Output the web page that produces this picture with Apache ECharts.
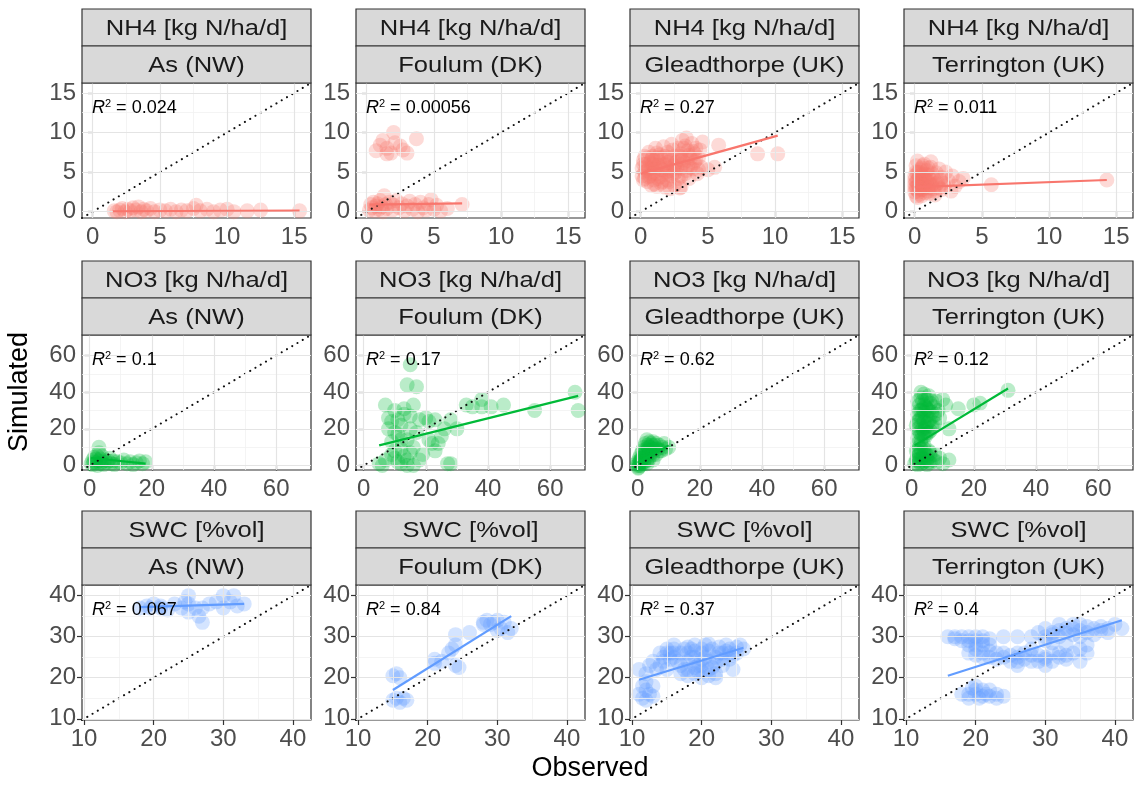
<!DOCTYPE html>
<html>
<head>
<meta charset="utf-8">
<script src="https://cdn.jsdelivr.net/npm/echarts@6.0.0/dist/echarts.min.js"></script>
<style>
  html, body { margin: 0; padding: 0; background: #fff; }
  #chart { width: 1134px; height: 785px; }
</style>
</head>
<body>
<div id="chart"></div>
<script>
// facet labels
const variables = ['NH4 [kg N/ha/d]', 'NO3 [kg N/ha/d]', 'SWC [%vol]'];
const sites = ['As (NW)', 'Foulum (DK)', 'Gleadthorpe (UK)', 'Terrington (UK)'];
const colors = ['#F8766D', '#00BA38', '#619CFF'];

// axis ranges per row (x and y share the same range)
const axisMin = [-0.8, -2.45, 9.7];
const axisMax = [16.25, 71.2, 42.6];
const majorTicks = [[0, 5, 10, 15], [0, 20, 40, 60], [10, 20, 30, 40]];
const minorTicks = [[2.5, 7.5, 12.5], [10, 30, 50], [15, 25, 35]];

const r2Labels = [
  ['0.024', '0.00056', '0.27', '0.011'],
  ['0.1', '0.17', '0.62', '0.12'],
  ['0.067', '0.84', '0.37', '0.4']
];

// regression lines [x1, y1, x2, y2]
const fitNH4 = [[1.5, 0.05, 15.4, 0.15], [0.2, 0.9, 7.1, 1.05], [0, 4.8, 10.2, 9.6], [0, 3.1, 14.3, 4.0]];
const fitNO3 = [[0.5, 4.1, 18, 1.0], [5, 11, 69, 38], [0, 1.5, 10, 11], [1, 11, 31, 42]];
const fitSWC = [[18, 37.2, 33, 38], [15, 17, 32, 35], [11, 19.5, 26, 27.3], [16, 20.5, 41, 34]];

// observed / simulated pairs
const nh4As = [[1.6,0.1],[1.8,0],[2,0.2],[2.2,0.4],[2.4,0],[2.6,0.3],[2.8,0.1],[3,0.5],[3.2,0.2],[3.4,0.6],[3.6,0],[3.8,0.3],[4,0.1],[4.3,0.4],[4.6,0],[5,0.2],[5.4,0.1],[5.8,0.3],[6.2,0],[6.6,0.2],[7,0.1],[7.5,0.4],[7.7,0.8],[8,0.1],[8.5,0.3],[9,0],[9.5,0.2],[10,0.3],[10.5,0],[11.5,0.1],[12.5,0.2],[15.4,0.1]];
const nh4Foulum = [[0.7,7.7],[1.0,8.4],[1.2,9.0],[1.5,7.3],[1.8,7.4],[2.0,10.0],[2.1,8.7],[2.5,8.3],[2.7,7.8],[3.0,7.4],[3.7,9.2],[1.5,8.0],
  [0.2,0.2],[0.3,0.9],[0.4,0.5],[0.5,1.2],[0.6,0.1],[0.7,0.7],[0.8,1.0],[0.9,0.3],[1.0,1.4],[1.1,0.6],[1.2,0.0],[1.3,2.0],[1.4,0.9],[1.5,0.4],[1.7,1.2],[1.9,0.2],[2.0,0.8],[2.2,1.4],[2.4,0.5],[2.6,1.0],[2.8,0.1],[3.0,0.7],[3.2,1.3],[3.4,0.3],[3.6,0.9],[3.8,0.0],[4.0,1.2],[4.2,0.5],[4.4,0.2],[4.6,0.9],[4.8,1.5],[5.0,0.3],[5.2,0.8],[5.5,0.1],[6.0,0.4],[7.1,0.9]];
const nh4Glead = [[0.1,4.5],[0.1,5.5],[0.2,6.5],[0.2,4],[0.3,5],[0.3,7],[0.4,6],[0.5,3.8],[0.5,5.2],[0.6,7.5],[0.7,4.5],[0.7,6.2],[0.8,3.3],[0.8,5.6],[0.9,7],[1,4],[1,5],[1,6.5],[1.1,8],[1.2,3.2],[1.2,4.8],[1.3,5.9],[1.4,7.2],[1.5,3.6],[1.5,4.4],[1.5,6.8],[1.6,5.3],[1.7,8.2],[1.8,3.1],[1.8,6],[1.9,4.7],[2,5.5],[2,7.5],[2.1,3.8],[2.2,6.5],[2.3,8.5],[2.3,4.5],[2.4,5.8],[2.5,3.3],[2.5,7],[2.6,5],[2.7,6.3],[2.8,8],[2.8,4.2],[2.9,3],[3,5.5],[3,7.3],[3.1,9],[3.2,6.2],[3.3,4.8],[3.3,8.3],[3.4,9.3],[3.5,5.8],[3.5,7.7],[3.6,4.2],[3.7,6.8],[3.8,8.6],[3.9,5.4],[4,7.3],[4,6.2],[4.1,8],[4.2,4.8],[4.3,6.8],[4.4,7.8],[4.5,5.6],[4.6,8.8],[5,5.3],[5.5,5.6],[5.8,8.4],[8.7,7.3],[10.2,7.3],[3,3.1],[2.2,2.9],[1,3.5],[0.2,6],
  [0.3,4.2],[0.5,6.8],[0.6,5.5],[0.8,4.8],[0.9,6],[1.1,5.4],[1.2,7.4],[1.3,4.2],[1.4,6.3],[1.6,3.8],[1.7,5.9],[1.8,7],[1.9,5],[2,4],[2.1,6.8],[2.2,5.2],[2.4,7.8],[2.5,4.8],[2.6,6.2],[2.7,5.5],[2.9,7],[3,4.5],[3.1,6.5],[3.2,8],[3.4,5.2],[3.6,7.1],[3.7,5.6],[3.9,7.6],[4.1,6.5],[4.3,5.3],[0.4,5.6],[0.6,4.4],[1,5.8],[1.5,5.4],[2,6.2],[2.5,5.8],[3,6.6],[3.5,6.5],[1.2,6.8],[0.8,6.6]];
const nh4Terr = [[0,2.5],[0,3.5],[0,4.5],[0.1,2],[0.1,3],[0.1,5.8],[0.2,4],[0.2,2.7],[0.2,6.4],[0.3,3.3],[0.3,5],[0.4,2.2],[0.4,4.3],[0.5,3.6],[0.5,5.5],[0.6,2.8],[0.6,4.8],[0.7,3.1],[0.7,6],[0.8,2.4],[0.8,4],[0.9,5.2],[1,3],[1,3.8],[1,4.6],[1.1,2.3],[1.2,5.6],[1.3,3.4],[1.4,4.2],[1.5,2.6],[1.6,4.9],[1.7,3.6],[1.8,5.4],[2,2.8],[2,4.3],[2.2,3.2],[2.3,5],[2.5,3.9],[2.7,2.6],[3,3.2],[3.3,3.8],[3.6,4.2],[5.7,3.4],[14.3,4],[0.5,2],[1.5,2.1],[0.2,1.8],[1.2,6.3],[2.8,4.5],
  [0,3],[0,4],[0.1,5],[0.2,3.4],[0.3,4.2],[0.3,2.5],[0.4,3.7],[0.5,4.6],[0.5,2.8],[0.6,3.4],[0.7,4.3],[0.8,3.2],[0.9,3.8],[1,2.6],[1.1,4.1],[1.2,3.3],[1.3,4.8],[1.4,2.9],[1.6,3.5],[1.8,3],[0.4,5.3],[0.2,4.9],[0.6,5.8],[1,5.5],[1.9,4],[0.1,3.8],[0.4,3],[0.8,4.7],[2.1,3.6],[1.1,3.5]];

const no3As = [[0.5,1],[1,3],[1,0.5],[1.5,2],[1.5,4.5],[2,1.5],[2,3.5],[2.5,0],[2.5,5],[3,2.5],[3,10],[3,7],[3.5,1],[3.5,3.5],[4,2],[4,5],[4.5,0.5],[5,3],[5.5,1.5],[6,2.5],[6.5,4],[7,1],[7.5,2.5],[8,0.5],[9,2],[10,1.5],[11,3],[12,1],[13,2],[14,0.5],[15,1.5],[16,2.5],[17,1],[18,2]];
const no3Foulum = [[5,1],[7,3],[7,33],[8,26],[8,20],[9,24],[9,13],[10,8],[10,4],[10,30],[11,2],[11,17],[12,1],[12,9],[12,22],[13,5],[13,28],[13,31],[14,3],[14,14],[14,44],[15,55],[15,7],[15,27],[16,10],[16,33],[16,0],[17,43],[17,18],[18,25],[18,3],[19,6],[20,26],[21,24],[21,14],[22,12],[23,8],[23,25],[24,12],[25,16],[26,20],[27,1],[28,1],[28,25],[30,20],[33,33],[35,32],[38,36],[38,32],[41,32],[45,33],[55,30],[68,40],[69,30],[12,14],[11,25],[10,18],[9,6],[15,20],[14,0],[6,0]];
const no3Glead = [[0,0],[0,2],[0.3,-1],[0.5,1],[0.5,4],[0.8,2.5],[1,0],[1,6],[1.2,3],[1.5,1.5],[1.5,8],[1.8,5],[2,2],[2,10],[2.2,7],[2.5,4],[2.5,12],[2.8,9],[3,1],[3,6],[3,14],[3.3,11],[3.5,3],[3.5,8],[3.8,13],[4,5],[4,10],[4.3,12],[4.5,7],[5,3],[5,9],[5,13],[5.5,11],[6,6],[6,12],[6.5,9],[7,11],[7.5,8],[8,10],[8.5,12],[9,9],[10,10],[0.2,-1.5],
  [0.5,0],[1,2],[1.5,4],[2,5],[2.5,7],[3,8],[3.5,10],[4,7],[4.5,11],[5,6],[1,3.5],[2,1],[3,3],[0,1],[6,9],[7,8]];
const no3Terr = [[1,1],[1.5,3],[2,0.5],[2,5],[2.5,2],[3,7],[3,1],[3.5,4],[4,9],[4,2],[4.5,6],[5,0.5],[5,3],[5.5,8],[6,5],[6,1.5],[7,3],[7.5,6],[8,2],[9,4],[10,1],[12,3],[1.5,8],[2.5,10],[3,12],
  [2,15],[2,20],[2,28],[2.5,18],[2.5,25],[2.5,33],[3,14],[3,22],[3,30],[3,37],[3.5,17],[3.5,26],[3.5,35],[4,19],[4,24],[4,29],[4,39],[4.5,16],[4.5,21],[4.5,32],[5,23],[5,27],[5,36],[5.5,18],[5.5,30],[6,25],[6,34],[6.5,21],[6.5,29],[7,27],[7,32],[7.5,23],[8,35],[8.5,30],[9,26],[10,36],[11,33],[12,20],[15,31],[20,33],[22,34],[31,41],[2,12],[1.5,22],[3,40],[2,35],
  [2,3],[2.5,6],[3,4],[3.5,1.5],[4,6],[4.5,3],[5,5.5],[5.5,2],[6,7],[3,9],[4,11],[2,8],[3.5,20],[4,33],[4.5,27],[5,18],[5.5,24],[3,26],[2.5,30],[3.5,31],[4,16],[5,31],[6,19],[6.5,35],[2,24],[3,17],[4.5,36],[5.5,38],[7,21],[8,28]];

const swcAs = [[18,37],[19,37.5],[19.5,37],[20,38],[21,37.5],[21,37],[22,36.5],[23,38],[24,37],[25,40],[25,38],[25,36],[26,37],[26.5,35],[27,33.5],[27,37],[28,38],[29,38.5],[30,40],[30,37],[31,38.5],[31.5,40],[32,37.5],[33,38],[24.5,38.5]];
const swcFoulum = [[15,20.5],[15.5,21],[16,20],[15,14.5],[15.5,15],[16,14],[16.5,15],[17,14.5],[21,24.5],[21,23.5],[22,24],[23,26],[23.5,27],[24,30.5],[24,23],[24.5,22.5],[24,28],[26,31],[28,33],[28.5,34],[29,33],[29.5,33.5],[30,34],[30.5,32],[31,33.5],[31.5,31],[32,32],[30,31.5],[28,33.5]];
const swcGlead = [[11,16],[11.5,15],[12,17],[12,14.5],[12.5,16],[13,18],[11,22],[12,21],[12.5,23],[13,24],[14,26],[14.5,25],[15,27],[15.5,26],[16,25],[14,23],[15,22],[16,27],[16.5,24],[17,21],[17,26],[17.5,22],[18,20.5],[18,24],[18.5,27],[19,21],[19,25],[19.5,23],[20,20],[20,26],[20.5,28],[21,22],[21,24],[21.5,27],[22,21],[22,25],[22.5,27.5],[23,23],[23,26],[23.5,28],[24,24.5],[24,27],[24.5,22],[25,26],[25.5,28],[26,27],[22,20],[20,27],[18,27.5],[16,28],[19,28],[21,28.2],
  [17,23],[18,22],[18.5,25],[19,26.5],[19.5,21.5],[20,23],[20.5,25],[21,26.5],[21.5,22.5],[22,23.5],[22.5,26],[23,24.5],[23.5,26.5],[24,26],[24.5,25.5],[25,27.5],[14.5,24],[15,26],[15.5,24.5],[16,26],[13.5,22],[12,19],[11.5,18],[13,15.5],[19,22.5],[20,24.5],[21,20.5],[17.5,27],[18,26],[20,21.5]];
const swcTerr = [[16,30],[17,29.5],[18,30],[19,29],[20,30],[21,29],[22,29.5],[19,28],[20,28],[21,28],[22,28],
  [19,26],[20,25.5],[21,26],[22,25],[23,26],[24,25],[25,24],[26,25],[27,24.5],[28,25.5],[29,24],[30,25],[31,26],[32,25],[33,24.5],[34,26],[35,24],[36,26],[26,23],[30,23],
  [18,16],[19,15],[19.5,17.5],[20,16],[20.5,15],[21,17],[21.5,16],[22,15.5],[23,16],[24,15.5],[20,18],
  [24,30],[26,30],[28,30],[29,31],[30,29],[30,32],[31,31],[32,30],[32,33],[33,31],[34,32],[35,30],[35,33],[36,31],[37,32],[38,31.5],[39,32],[40,33],[41,32],[33,28],[31,28.5],[36,28],
  [17,30],[18,29],[19,30],[20,29],[21,30],[20,27],[21,25],[22,26.5],[23,24.5],[24,26],[25,25.5],[26,24],[27,26],[28,24],[29,25.5],[30,24.5],[31,24],[32,26],[33,25.5],[30,30],[31,30.5],[32,31.5],[33,32],[34,30.5],[35,31.5],[36,32.5],[37,30.5],[38,32.5],[39,31],[34,33],[19,16],[20,17],[21,15.5],[22,17],[23,15],[26,26],[28,27],[35,27]];

const points = [
  [nh4As, nh4Foulum, nh4Glead, nh4Terr],
  [no3As, no3Foulum, no3Glead, no3Terr],
  [swcAs, swcFoulum, swcGlead, swcTerr]
];
const fits = [fitNH4, fitNO3, fitSWC];

const FONT = '"Liberation Sans", Arial, sans-serif';
const colLeft = [82, 356, 630, 904];
const panelW = 229;
const plotTop = [83, 335, 585];
const plotH = 135;
const stripH = 37;

const chart = echarts.init(document.getElementById('chart'));

const grids = [], xAxes = [], yAxes = [], series = [], graphics = [];

function makeAxis(r, k, isX) {
  return {
    type: 'value',
    gridIndex: k,
    min: axisMin[r],
    max: axisMax[r],
    axisLine: { show: false },
    axisTick: { show: true, length: 5, customValues: majorTicks[r], lineStyle: { color: '#333', width: 1.2 } },
    axisLabel: { customValues: majorTicks[r], fontSize: 24, color: '#4d4d4d', fontFamily: FONT, margin: isX ? 7 : 6 },
    splitLine: { show: false }
  };
}

let k = 0;
for (let r = 0; r < 3; r++) {
  for (let c = 0; c < 4; c++) {
    const left = colLeft[c];
    const top = plotTop[r];
    grids.push({
      left: left, top: top, width: panelW, height: plotH,
      show: true, backgroundColor: '#fff', borderColor: '#333', borderWidth: 1.2
    });
    xAxes.push(makeAxis(r, k, true));
    yAxes.push(makeAxis(r, k, false));

    // grid lines
    const gridLines = [];
    minorTicks[r].forEach(v => {
      gridLines.push({ xAxis: v, lineStyle: { color: '#f1f1f1', width: 0.8, type: 'solid' } });
      gridLines.push({ yAxis: v, lineStyle: { color: '#f1f1f1', width: 0.8, type: 'solid' } });
    });
    majorTicks[r].forEach(v => {
      gridLines.push({ xAxis: v, lineStyle: { color: '#e4e4e4', width: 1.2, type: 'solid' } });
      gridLines.push({ yAxis: v, lineStyle: { color: '#e4e4e4', width: 1.2, type: 'solid' } });
    });
    series.push({
      type: 'line', xAxisIndex: k, yAxisIndex: k, data: [], z: 1, silent: true,
      markLine: { silent: true, symbol: ['none', 'none'], animation: false, label: { show: false }, data: gridLines }
    });

    // observations
    series.push({
      type: 'scatter', xAxisIndex: k, yAxisIndex: k, data: points[r][c], z: 3, silent: true,
      symbol: 'circle', symbolSize: 15,
      itemStyle: { color: colors[r], opacity: 0.27 }
    });

    // 1:1 line
    series.push({
      type: 'line', xAxisIndex: k, yAxisIndex: k, z: 4, silent: true, symbol: 'none',
      data: [[axisMin[r], axisMin[r]], [axisMax[r], axisMax[r]]],
      lineStyle: { color: '#111', width: 2, type: [0.1, 6], cap: 'round' }
    });

    // regression line
    const f = fits[r][c];
    series.push({
      type: 'line', xAxisIndex: k, yAxisIndex: k, z: 5, silent: true, symbol: 'none',
      data: [[f[0], f[1]], [f[2], f[3]]],
      lineStyle: { color: colors[r], width: 2.2 }
    });

    // strips
    [variables[r], sites[c]].forEach((label, i) => {
      const sy = top - 2 * stripH + i * stripH;
      graphics.push({
        type: 'rect', z: 10,
        shape: { x: left, y: sy, width: panelW, height: stripH },
        style: { fill: '#d9d9d9', stroke: '#333', lineWidth: 1.2 }
      });
      graphics.push({
        type: 'text', z: 11, x: left + panelW / 2, y: sy + stripH / 2 + 1, scaleX: 1.16,
        style: { text: label, align: 'center', verticalAlign: 'middle', fontSize: 22, fontFamily: FONT, fill: '#1a1a1a' }
      });
    });

    // R^2 annotation
    graphics.push({
      type: 'text', z: 11, x: left + 10, y: top + 25,
      style: {
        text: '{i|R}{s|2}{n| = ' + r2Labels[r][c] + '}',
        align: 'left', verticalAlign: 'middle',
        fontFamily: FONT, fill: '#000',
        rich: {
          i: { fontSize: 18, fontStyle: 'italic', fontFamily: FONT, fill: '#000' },
          s: { fontSize: 11, fontFamily: FONT, fill: '#000', verticalAlign: 'top', padding: [0, 0, 9, 0] },
          n: { fontSize: 18, fontFamily: FONT, fill: '#000' }
        }
      }
    });
    k++;
  }
}

// axis titles
graphics.push({
  type: 'text', x: 590, y: 769,
  style: { text: 'Observed', align: 'center', verticalAlign: 'middle', fontSize: 27, fontFamily: FONT, fill: '#000' }
});
graphics.push({
  type: 'text', x: 20, y: 392, rotation: Math.PI / 2,
  style: { text: 'Simulated', align: 'center', verticalAlign: 'middle', fontSize: 27, fontFamily: FONT, fill: '#000' }
});

chart.setOption({
  animation: false,
  backgroundColor: '#fff',
  grid: grids,
  xAxis: xAxes,
  yAxis: yAxes,
  series: series,
  graphic: { elements: graphics }
});
</script>
</body>
</html>
